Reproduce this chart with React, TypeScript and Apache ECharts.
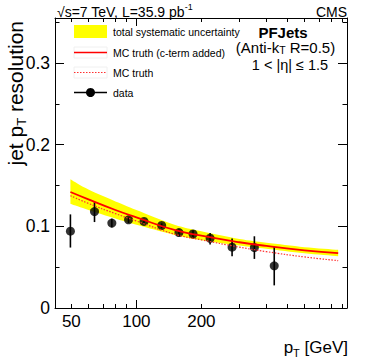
import React, { useEffect, useRef } from "react";
import * as echarts from "echarts";

// ---- data ----
const ptCurve = [49.5, 60, 80, 100, 150, 200, 300, 400, 600, 860];
const mcCterm = [0.142, 0.133, 0.12, 0.111, 0.0955, 0.0885, 0.0805, 0.076, 0.0705, 0.0672];
const mcTruth = [0.1375, 0.128, 0.1155, 0.1065, 0.0905, 0.0835, 0.0745, 0.069, 0.0625, 0.058];
const bandUp = [0.1575, 0.145, 0.1305, 0.12, 0.102, 0.094, 0.0845, 0.08, 0.0745, 0.0712];
const bandLow = [0.1275, 0.12, 0.1095, 0.102, 0.0895, 0.083, 0.0765, 0.0725, 0.067, 0.0635];

const ptData = [49.5, 64, 77, 92, 108.5, 131, 157.5, 183, 219.5, 277.5, 352, 435];
const resData = [0.094, 0.118, 0.104, 0.108, 0.106, 0.101, 0.0923, 0.0906, 0.0854, 0.0744, 0.074, 0.0516];
const resHi = [0.1146, 0.1296, 0.1094, 0.1106, 0.1085, 0.1037, 0.096, 0.0951, 0.0918, 0.085, 0.0878, 0.0752];
const resLo = [0.074, 0.1052, 0.0984, 0.104, 0.1028, 0.0976, 0.0878, 0.085, 0.0777, 0.0634, 0.0601, 0.0277];

const xLabelValues = [50, 100, 200];
const xMajorTicks = [100];
const xMinorTicks = [50, 60, 70, 80, 90, 200, 300, 400, 500, 600, 700, 800, 900];
const yMajorTicks = [0, 0.1, 0.2, 0.3];
const yMinorTicks = [0.05, 0.15, 0.25, 0.35];
const xMin = 42;
const xMax = 945;
const yMin = 0;
const yMax = 0.355;

const FONT = "'Liberation Sans', Arial, Helvetica, sans-serif";
const lg = (v: number) => Math.log10(v);

// Catmull-Rom smoothing of pixel points (rendering only)
function smoothPts(pts: number[][], steps = 8): number[][] {
  const out: number[][] = [];
  const n = pts.length;
  for (let i = 0; i < n - 1; i++) {
    const p0 = pts[Math.max(0, i - 1)];
    const p1 = pts[i];
    const p2 = pts[i + 1];
    const p3 = pts[Math.min(n - 1, i + 2)];
    for (let s = 0; s < steps; s++) {
      const t = s / steps;
      const t2 = t * t;
      const t3 = t2 * t;
      const f = (a: number, b: number, c: number, d: number) =>
        0.5 * (2 * b + (-a + c) * t + (2 * a - 5 * b + 4 * c - d) * t2 + (-a + 3 * b - 3 * c + d) * t3);
      out.push([f(p0[0], p1[0], p2[0], p3[0]), f(p0[1], p1[1], p2[1], p3[1])]);
    }
  }
  out.push(pts[n - 1]);
  return out;
}

export default function App() {
  const ref = useRef<HTMLDivElement>(null);
  useEffect(() => {
    if (!ref.current) return;
    const chart = echarts.init(ref.current, undefined, { renderer: "svg" });
    const grid = { left: 55, right: 27, top: 18, bottom: 55, outerBoundsMode: "none" } as any;

    const xBase = (position: string, ticks: number[], len: number, showLine: boolean, showLabel: boolean) => ({
      type: "value",
      position,
      min: lg(xMin),
      max: lg(xMax),
      axisLine: { show: showLine, onZero: false, lineStyle: { color: "#000", width: 1 } },
      axisTick: { show: true, inside: true, length: len, customValues: ticks.map(lg), lineStyle: { color: "#000", width: 1 } },
      axisLabel: showLabel
        ? {
            show: true,
            customValues: xLabelValues.map(lg),
            formatter: (v: number) => String(Math.round(Math.pow(10, v))),
            fontSize: 17,
            fontFamily: FONT,
            color: "#000",
            margin: 5,
          }
        : { show: false },
      splitLine: { show: false },
    });
    const yBase = (position: string, ticks: number[], len: number, showLine: boolean, showLabel: boolean) => ({
      type: "value",
      position,
      min: yMin,
      max: yMax,
      axisLine: { show: showLine, onZero: false, lineStyle: { color: "#000", width: 1 } },
      axisTick: { show: true, inside: true, length: len, customValues: ticks, lineStyle: { color: "#000", width: 1 } },
      axisLabel: showLabel
        ? {
            show: true,
            customValues: yMajorTicks,
            formatter: (v: number) => (v === 0 ? "0" : v.toFixed(1)),
            fontSize: 17.5,
            fontFamily: FONT,
            color: "#000",
            margin: 5,
          }
        : { show: false },
      splitLine: { show: false },
    });

    const curve = (ys: number[]) => ptCurve.map((p, i) => [lg(p), ys[i]]);

    const option: any = {
      animation: false,
      grid,
      xAxis: [
        xBase("bottom", xMinorTicks, 4, true, true),
        xBase("bottom", xMajorTicks, 8, false, false),
        xBase("top", xMinorTicks, 4, true, false),
        xBase("top", xMajorTicks, 8, false, false),
      ],
      yAxis: [
        yBase("left", yMajorTicks, 9, true, true),
        yBase("left", yMinorTicks, 4.5, false, false),
        yBase("right", yMajorTicks, 9, true, false),
        yBase("right", yMinorTicks, 4.5, false, false),
      ],
      series: [
        {
          type: "custom",
          name: "total systematic uncertainty",
          renderItem: (params: any, api: any) => {
            if (params.dataIndex !== 0) return null;
            const up = ptCurve.map((p, i) => api.coord([lg(p), bandUp[i]]));
            const lo = ptCurve.map((p, i) => api.coord([lg(p), bandLow[i]]));
            const points = smoothPts(up).concat(smoothPts(lo).reverse());
            return {
              type: "polygon",
              shape: { points },
              style: { fill: "#ffff00", stroke: "none" },
            };
          },
          data: curve(bandUp),
        },
        {
          type: "line",
          name: "MC truth",
          smooth: true,
          symbol: "none",
          lineStyle: { color: "#ff3030", width: 1.2, type: [1.5, 1.5] },
          data: curve(mcTruth),
        },
        {
          type: "line",
          name: "MC truth (c-term added)",
          smooth: true,
          symbol: "none",
          lineStyle: { color: "#ff0000", width: 1.8 },
          data: curve(mcCterm),
        },
        {
          type: "custom",
          name: "errors",
          renderItem: (params: any, api: any) => {
            const x = api.value(0);
            const a = api.coord([x, api.value(1)]);
            const b = api.coord([x, api.value(2)]);
            return {
              type: "line",
              shape: { x1: a[0], y1: a[1], x2: b[0], y2: b[1] },
              style: { stroke: "#000", lineWidth: 1.6 },
            };
          },
          data: ptData.map((p, i) => [lg(p), resLo[i], resHi[i]]),
        },
        {
          type: "scatter",
          name: "data",
          symbol: "circle",
          symbolSize: 9,
          itemStyle: { color: "#000" },
          data: ptData.map((p, i) => [lg(p), resData[i]]),
        },
      ],
      graphic: [
        // legend
        { type: "rect", shape: { x: 74, y: 25, width: 33, height: 13 }, style: { fill: "#ffff00" } },
        { type: "text", x: 113, y: 31.5, style: { text: "total systematic uncertainty", fontSize: 10.5, fontFamily: FONT, fill: "#000", verticalAlign: "middle" } },
        { type: "rect", shape: { x: 74, y: 47, width: 33, height: 11 }, style: { fill: "#fff", stroke: "#f0f0f0", lineWidth: 1 } },
        { type: "line", shape: { x1: 74, y1: 52.5, x2: 107, y2: 52.5 }, style: { stroke: "#ff0000", lineWidth: 1.6 } },
        { type: "text", x: 113, y: 52.5, style: { text: "MC truth (c-term added)", fontSize: 10.5, fontFamily: FONT, fill: "#000", verticalAlign: "middle" } },
        { type: "rect", shape: { x: 74, y: 67, width: 33, height: 11 }, style: { fill: "#fff", stroke: "#f0f0f0", lineWidth: 1 } },
        { type: "line", shape: { x1: 74, y1: 72.5, x2: 107, y2: 72.5 }, style: { stroke: "#ff3030", lineWidth: 1.2, lineDash: [1.5, 1.5] } },
        { type: "text", x: 113, y: 72.5, style: { text: "MC truth", fontSize: 10.5, fontFamily: FONT, fill: "#000", verticalAlign: "middle" } },
        { type: "line", shape: { x1: 74, y1: 92.5, x2: 107, y2: 92.5 }, style: { stroke: "#000", lineWidth: 1.6 } },
        { type: "circle", shape: { cx: 90.5, cy: 92.5, r: 4.5 }, style: { fill: "#000" } },
        { type: "text", x: 113, y: 92.5, style: { text: "data", fontSize: 10.5, fontFamily: FONT, fill: "#000", verticalAlign: "middle" } },
        // annotations
        { type: "text", x: 283, y: 32.5, style: { text: "PFJets", fontSize: 15, fontWeight: "bold", fontFamily: FONT, fill: "#000", align: "center", verticalAlign: "middle" } },
        {
          type: "text",
          x: 285.5,
          y: 47,
          style: {
            text: "(Anti-k{sub|T} R=0.5)",
            fontSize: 15,
            fontFamily: FONT,
            fill: "#000",
            align: "center",
            verticalAlign: "middle",
            rich: { sub: { fontSize: 10.5, fontFamily: FONT, fill: "#000", padding: [6, 0, 0, 0] } },
          },
        },
        { type: "text", x: 290, y: 64.5, style: { text: "1 < |η| ≤ 1.5", fontSize: 14.5, fontFamily: FONT, fill: "#000", align: "center", verticalAlign: "middle" } },
        {
          type: "text",
          x: 57,
          y: 11.5,
          style: {
            text: "√s=7 TeV, L=35.9 pb{sup|-1}",
            fontSize: 14,
            fontFamily: FONT,
            fill: "#000",
            verticalAlign: "middle",
            rich: { sup: { fontSize: 9, fontFamily: FONT, fill: "#000", padding: [0, 0, 9, 0] } },
          },
        },
        { type: "text", x: 347, y: 11.5, style: { text: "CMS", fontSize: 14, fontFamily: FONT, fill: "#000", align: "right", verticalAlign: "middle" } },
        {
          type: "text",
          x: 348,
          y: 347,
          style: {
            text: "p{sub|T} [GeV]",
            fontSize: 17,
            fontFamily: FONT,
            fill: "#000",
            align: "right",
            verticalAlign: "middle",
            rich: { sub: { fontSize: 11, fontFamily: FONT, fill: "#000", padding: [11, 0, 0, 0] } },
          },
        },
        {
          type: "text",
          x: 15,
          y: 21,
          rotation: Math.PI / 2,
          style: {
            text: "jet p{sub|T} resolution",
            fontSize: 21,
            fontFamily: FONT,
            fill: "#000",
            align: "right",
            verticalAlign: "middle",
            rich: { sub: { fontSize: 13, fontFamily: FONT, fill: "#000", padding: [13, 0, 0, 0] } },
          },
        },
      ],
    };
    chart.setOption(option);
    return () => chart.dispose();
  }, []);
  return <div ref={ref} style={{ position: "fixed", left: 0, top: 0, width: 374, height: 363, background: "#fff" }} />;
}
